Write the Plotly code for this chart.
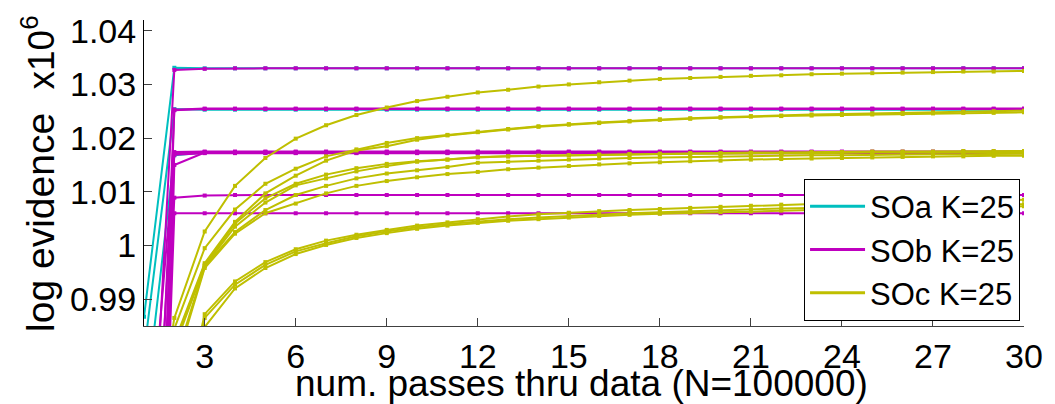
import plotly.graph_objects as go

# ---------------- data (log evidence, units of 10^6) ----------------
passes = [1, 2, 3, 4, 5, 6, 7, 8, 9, 10, 11, 12, 13, 14, 15, 16, 17, 18, 19, 20,
          21, 22, 23, 24, 25, 26, 27, 28, 29, 30]

# SOa K=25 (cyan)
soa_1 = [0.9867, 1.0331, 1.0330, 1.0330, 1.0330, 1.0330, 1.0330, 1.0330, 1.0330, 1.0330,
         1.0330, 1.0330, 1.0330, 1.0330, 1.0330, 1.0330, 1.0330, 1.0330, 1.0330, 1.0330,
         1.0330, 1.0330, 1.0330, 1.0330, 1.0330, 1.0330, 1.0330, 1.0330, 1.0330, 1.0330]
soa_2 = [0.9800, 1.0254, 1.0253, 1.0253, 1.0253, 1.0253, 1.0253, 1.0253, 1.0253, 1.0253,
         1.0253, 1.0253, 1.0253, 1.0253, 1.0253, 1.0253, 1.0253, 1.0253, 1.0253, 1.0253,
         1.0253, 1.0253, 1.0253, 1.0253, 1.0253, 1.0253, 1.0253, 1.0253, 1.0253, 1.0253]
soa_3 = [0.9680, 1.0168, 1.0173, 1.0173, 1.0173, 1.0173, 1.0173, 1.0173, 1.0173, 1.0173,
         1.0173, 1.0173, 1.0173, 1.0173, 1.0173, 1.0173, 1.0173, 1.0173, 1.0173, 1.0173,
         1.0173, 1.0173, 1.0173, 1.0173, 1.0173, 1.0173, 1.0173, 1.0173, 1.0173, 1.0173]

# SOb K=25 (magenta)
sob_1 = [0.9300, 1.0327, 1.0329, 1.0330, 1.0330, 1.0330, 1.0330, 1.0330, 1.0330, 1.0330,
         1.0330, 1.0330, 1.0330, 1.0330, 1.0330, 1.0330, 1.0330, 1.0330, 1.0330, 1.0330,
         1.0330, 1.0330, 1.0330, 1.0330, 1.0330, 1.0330, 1.0330, 1.0330, 1.0330, 1.0330]
sob_2 = [0.9000, 1.0252, 1.0254, 1.0254, 1.0254, 1.0254, 1.0254, 1.0254, 1.0254, 1.0254,
         1.0254, 1.0254, 1.0254, 1.0254, 1.0254, 1.0254, 1.0254, 1.0254, 1.0254, 1.0254,
         1.0254, 1.0254, 1.0254, 1.0254, 1.0254, 1.0254, 1.0254, 1.0254, 1.0254, 1.0254]
sob_3 = [0.8600, 1.0253, 1.0255, 1.0255, 1.0255, 1.0255, 1.0255, 1.0255, 1.0255, 1.0255,
         1.0255, 1.0255, 1.0255, 1.0255, 1.0255, 1.0255, 1.0255, 1.0255, 1.0255, 1.0255,
         1.0255, 1.0255, 1.0255, 1.0255, 1.0255, 1.0255, 1.0255, 1.0255, 1.0255, 1.0255]
sob_4 = [0.8800, 1.0174, 1.0175, 1.0175, 1.0175, 1.0175, 1.0175, 1.0175, 1.0175, 1.0175,
         1.0175, 1.0175, 1.0175, 1.0175, 1.0175, 1.0175, 1.0175, 1.0175, 1.0175, 1.0175,
         1.0175, 1.0175, 1.0175, 1.0175, 1.0175, 1.0175, 1.0175, 1.0175, 1.0175, 1.0175]
sob_5 = [0.9500, 1.0172, 1.0174, 1.0174, 1.0174, 1.0174, 1.0174, 1.0174, 1.0174, 1.0174,
         1.0174, 1.0174, 1.0174, 1.0174, 1.0174, 1.0174, 1.0174, 1.0174, 1.0174, 1.0174,
         1.0174, 1.0174, 1.0174, 1.0174, 1.0174, 1.0174, 1.0174, 1.0174, 1.0174, 1.0174]
sob_6 = [0.8200, 1.0150, 1.0173, 1.0173, 1.0173, 1.0173, 1.0173, 1.0173, 1.0173, 1.0173,
         1.0173, 1.0173, 1.0173, 1.0173, 1.0173, 1.0173, 1.0173, 1.0173, 1.0173, 1.0173,
         1.0173, 1.0173, 1.0173, 1.0173, 1.0173, 1.0173, 1.0173, 1.0173, 1.0173, 1.0173]
sob_7 = [0.9200, 1.0169, 1.0172, 1.0172, 1.0172, 1.0172, 1.0172, 1.0172, 1.0172, 1.0172,
         1.0172, 1.0172, 1.0172, 1.0172, 1.0172, 1.0172, 1.0172, 1.0172, 1.0172, 1.0172,
         1.0172, 1.0172, 1.0172, 1.0172, 1.0172, 1.0172, 1.0172, 1.0172, 1.0172, 1.0172]
sob_8 = [0.8900, 1.0089, 1.0093, 1.0094, 1.0094, 1.0094, 1.0094, 1.0094, 1.0094, 1.0094,
         1.0094, 1.0094, 1.0094, 1.0094, 1.0094, 1.0094, 1.0094, 1.0094, 1.0094, 1.0094,
         1.0094, 1.0094, 1.0094, 1.0094, 1.0094, 1.0094, 1.0094, 1.0094, 1.0094, 1.0094]
sob_9 = [0.8500, 1.0060, 1.0060, 1.0060, 1.0060, 1.0060, 1.0060, 1.0060, 1.0060, 1.0060,
         1.0060, 1.0060, 1.0060, 1.0060, 1.0060, 1.0060, 1.0060, 1.0060, 1.0060, 1.0060,
         1.0060, 1.0060, 1.0060, 1.0060, 1.0060, 1.0060, 1.0060, 1.0060, 1.0060, 1.0060]

# SOc K=25 (olive)
soc_1 = [0.9500, 0.9865, 1.0026, 1.0111, 1.0163, 1.0199, 1.0224, 1.0243, 1.0257, 1.0269,
         1.0277, 1.0285, 1.0290, 1.0296, 1.0300, 1.0304, 1.0307, 1.0310, 1.0312, 1.0314,
         1.0316, 1.0317, 1.0319, 1.0320, 1.0321, 1.0322, 1.0323, 1.0324, 1.0324, 1.0325]
soc_2 = [0.9300, 0.9845, 0.9995, 1.0067, 1.0115, 1.0143, 1.0166, 1.0179, 1.0191, 1.0200,
         1.0206, 1.0212, 1.0217, 1.0222, 1.0226, 1.0229, 1.0232, 1.0235, 1.0237, 1.0239,
         1.0241, 1.0242, 1.0244, 1.0245, 1.0246, 1.0247, 1.0248, 1.0249, 1.0250, 1.0251]
soc_3 = [0.9200, 0.9820, 0.9967, 1.0044, 1.0097, 1.0130, 1.0158, 1.0177, 1.0185, 1.0197,
         1.0205, 1.0211, 1.0216, 1.0221, 1.0225, 1.0228, 1.0231, 1.0234, 1.0236, 1.0238,
         1.0240, 1.0241, 1.0242, 1.0243, 1.0244, 1.0245, 1.0246, 1.0247, 1.0247, 1.0248]
soc_4 = [0.9150, 0.9815, 0.9964, 1.0041, 1.0088, 1.0115, 1.0132, 1.0144, 1.0152, 1.0157,
         1.0160, 1.0164, 1.0166, 1.0167, 1.0168, 1.0169, 1.0170, 1.0171, 1.0172, 1.0172,
         1.0173, 1.0173, 1.0174, 1.0174, 1.0175, 1.0175, 1.0175, 1.0176, 1.0176, 1.0176]
soc_5 = [0.9100, 0.9810, 0.9962, 1.0035, 1.0080, 1.0112, 1.0125, 1.0138, 1.0148, 1.0156,
         1.0160, 1.0165, 1.0166, 1.0167, 1.0168, 1.0169, 1.0170, 1.0170, 1.0171, 1.0171,
         1.0172, 1.0172, 1.0172, 1.0173, 1.0173, 1.0173, 1.0174, 1.0174, 1.0174, 1.0174]
soc_6 = [0.9050, 0.9780, 0.9961, 1.0025, 1.0066, 1.0094, 1.0111, 1.0125, 1.0134, 1.0140,
         1.0146, 1.0154, 1.0156, 1.0158, 1.0160, 1.0162, 1.0163, 1.0164, 1.0165, 1.0166,
         1.0167, 1.0167, 1.0168, 1.0168, 1.0169, 1.0169, 1.0170, 1.0170, 1.0170, 1.0171]
soc_7 = [0.9000, 0.9770, 0.9958, 1.0022, 1.0060, 1.0078, 1.0097, 1.0111, 1.0120, 1.0127,
         1.0133, 1.0137, 1.0142, 1.0145, 1.0148, 1.0151, 1.0153, 1.0155, 1.0157, 1.0158,
         1.0160, 1.0161, 1.0162, 1.0163, 1.0164, 1.0165, 1.0166, 1.0166, 1.0167, 1.0167]
soc_8 = [0.9000, 0.9620, 0.9872, 0.9933, 0.9969, 0.9993, 1.0009, 1.0020, 1.0029, 1.0037,
         1.0043, 1.0049, 1.0054, 1.0058, 1.0061, 1.0064, 1.0066, 1.0068, 1.0070, 1.0072,
         1.0074, 1.0076, 1.0077, 1.0079, 1.0080, 1.0081, 1.0082, 1.0083, 1.0084, 1.0085]
soc_9 = [0.8950, 0.9600, 0.9865, 0.9927, 0.9964, 0.9989, 1.0004, 1.0017, 1.0026, 1.0034,
         1.0040, 1.0045, 1.0049, 1.0052, 1.0055, 1.0058, 1.0060, 1.0062, 1.0064, 1.0066,
         1.0067, 1.0069, 1.0070, 1.0071, 1.0072, 1.0073, 1.0074, 1.0075, 1.0076, 1.0077]
soc_10 = [0.8900, 0.9580, 0.9848, 0.9920, 0.9958, 0.9984, 1.0001, 1.0014, 1.0023, 1.0031,
          1.0037, 1.0042, 1.0046, 1.0049, 1.0052, 1.0055, 1.0057, 1.0059, 1.0061, 1.0062,
          1.0063, 1.0065, 1.0066, 1.0067, 1.0068, 1.0069, 1.0070, 1.0071, 1.0072, 1.0073]

series = [
    ("SOa K=25", "#00BFBF", [soa_1, soa_2, soa_3]),
    ("SOb K=25", "#BF00BF", [sob_1, sob_2, sob_3, sob_4, sob_5, sob_6, sob_7, sob_8, sob_9]),
    ("SOc K=25", "#BFBF00", [soc_1, soc_2, soc_3, soc_4, soc_5, soc_6, soc_7, soc_8, soc_9, soc_10]),
]

y_ticks = [0.99, 1.00, 1.01, 1.02, 1.03, 1.04]
y_tick_text = ["0.99", "1", "1.01", "1.02", "1.03", "1.04"]
x_ticks = [3, 6, 9, 12, 15, 18, 21, 24, 27, 30]

FONT = "Liberation Sans, Arial, Helvetica, sans-serif"

fig = go.Figure()
for name, color, runs in series:
    for run in runs:
        assert len(run) == len(passes)
        fig.add_trace(go.Scatter(
            x=passes, y=run, mode="lines+markers", name=name,
            legendgroup=name, showlegend=False,
            line=dict(color=color, width=2),
            marker=dict(color=color, size=4, symbol="square"),
        ))
# legend entries: plain line samples
for name, color, runs in series:
    fig.add_trace(go.Scatter(
        x=[None], y=[None], mode="lines", name=name, legendgroup=name,
        showlegend=True, line=dict(color=color, width=3),
    ))

fig.update_layout(
    width=1055, height=404,
    margin=dict(l=144, r=24, t=17, b=78),
    paper_bgcolor="white", plot_bgcolor="white",
    font=dict(family=FONT, size=34, color="black"),
    showlegend=True,
    legend=dict(
        x=0.9955, y=0.482, xanchor="right", yanchor="top",
        bgcolor="white", bordercolor="black", borderwidth=1,
        font=dict(size=31), tracegroupgap=0, itemwidth=55,
    ),
    xaxis=dict(
        range=[1, 30], tickvals=x_ticks, showgrid=False, zeroline=False,
        showline=True, linecolor="#404040", linewidth=1,
        ticks="inside", ticklen=8, tickcolor="#404040",
        tickfont=dict(size=34),
    ),
    yaxis=dict(
        range=[0.985, 1.042], tickvals=y_ticks, ticktext=y_tick_text,
        showgrid=False, zeroline=False,
        showline=True, linecolor="black", linewidth=1,
        ticks="inside", ticklen=8, tickcolor="#404040",
        tickfont=dict(size=34),
    ),
    annotations=[
        dict(text="num. passes thru data (N=100000)", xref="paper", yref="paper",
             x=0.497, y=-0.187, xanchor="center", yanchor="middle",
             showarrow=False, font=dict(size=37)),
        dict(text="log evidence", xref="paper", yref="paper",
             x=-0.117, y=0.337, xanchor="center", yanchor="middle",
             textangle=-90, showarrow=False, font=dict(size=39)),
        dict(text="x10<sup>6</sup>", xref="paper", yref="paper",
             x=-0.12, y=0.895, xanchor="center", yanchor="middle",
             textangle=-90, showarrow=False, font=dict(size=37)),
    ],
)

fig.write_html("out.html")
